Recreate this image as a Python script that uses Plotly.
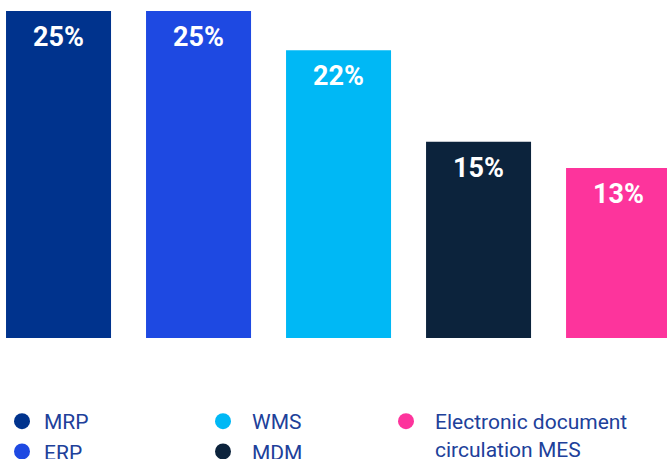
import plotly.graph_objects as go

categories = ["MRP", "ERP", "WMS", "MDM", "Electronic document<br>circulation MES"]
values = [25, 25, 22, 15, 13]
labels = ["25%", "25%", "22%", "15%", "13%"]
colors = ["#00338D", "#1E49E2", "#00B8F5", "#0C233C", "#FD349C"]
legend_groups = ["legend", "legend", "legend2", "legend2", "legend3"]

LABEL_FONT = "Roboto, sans-serif"
LEGEND_FONT = "Roboto, sans-serif"

fig = go.Figure()
xs = list(range(len(categories)))

for i, (name, col, lg, v) in enumerate(zip(categories, colors, legend_groups, values)):
    fig.add_trace(go.Bar(
        x=[xs[i]], y=[v], marker=dict(color=col, line=dict(width=0)),
        width=0.75, showlegend=False, hoverinfo="skip",
    ))

# legend-only circle markers (placed below visible range)
for i, (name, col, lg) in enumerate(zip(categories, colors, legend_groups)):
    fig.add_trace(go.Scatter(
        x=[xs[i]], y=[-50], mode="markers", name=name,
        marker=dict(symbol="circle", size=16, color=col),
        legend=lg, showlegend=True, hoverinfo="skip",
    ))

for x, v, t in zip(xs, values, labels):
    fig.add_annotation(
        x=x, y=v, text="<b>" + t + "</b>", showarrow=False,
        yanchor="top", yshift=-8,
        font=dict(family=LABEL_FONT, size=27, color="white"),
    )

legend_common = dict(
    font=dict(family=LEGEND_FONT, size=21, color="#20409A"),
    bgcolor="rgba(0,0,0,0)",
    xref="paper", yref="container", xanchor="left", yanchor="top",
    orientation="v", valign="top", itemclick=False, itemdoubleclick=False,
)

legend_y = 1 - 401 / 459

fig.update_layout(
    width=667, height=459,
    margin=dict(l=0, r=0, t=0, b=121),
    paper_bgcolor="white", plot_bgcolor="white",
    barmode="overlay",
    xaxis=dict(type="linear", autorange=False, range=[-0.418, 4.346],
               visible=False, fixedrange=True),
    yaxis=dict(type="linear", autorange=False, range=[0, 25.84],
               visible=False, fixedrange=True),
    legend=dict(x=0, y=legend_y, itemwidth=34, **legend_common),
    legend2=dict(x=194/667, y=legend_y, itemwidth=48, **legend_common),
    legend3=dict(x=377/667, y=legend_y, itemwidth=48, **legend_common),
    showlegend=True,
)

fig.write_html("out.html")
